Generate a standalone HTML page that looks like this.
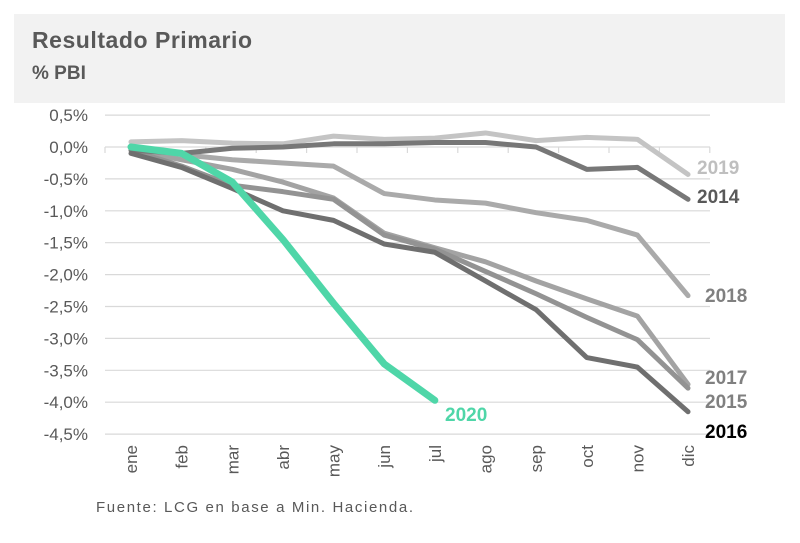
<!DOCTYPE html>
<html><head><meta charset="utf-8"><style>
body{margin:0;background:#fff;font-family:"Liberation Sans",sans-serif}
svg text{font-family:"Liberation Sans",sans-serif}
</style></head><body>
<svg width="800" height="538" viewBox="0 0 800 538">
<rect x="14" y="14" width="771" height="89" fill="#f2f2f2"/>
<text x="32" y="48" font-size="23" font-weight="bold" fill="#595959" textLength="220">Resultado Primario</text>
<text x="32" y="79" font-size="19" font-weight="bold" fill="#595959">% PBI</text>
<g id="grid"></g><g id="lines"></g><g id="labels"></g>
<text x="96" y="512" font-size="15" fill="#595959" textLength="317">Fuente: LCG en base a Min. Hacienda.</text>
</svg>
<script>
const months=["ene","feb","mar","abr","may","jun","jul","ago","sep","oct","nov","dic"];
const yTicks=[0.5,0,-0.5,-1,-1.5,-2,-2.5,-3,-3.5,-4,-4.5];
const s2019=[0.08,0.1,0.06,0.05,0.17,0.12,0.14,0.22,0.1,0.15,0.12,-0.43];
const s2014=[-0.05,-0.1,-0.02,0,0.05,0.05,0.07,0.07,0,-0.35,-0.32,-0.82];
const s2018=[0,-0.12,-0.2,-0.25,-0.3,-0.73,-0.83,-0.88,-1.03,-1.15,-1.38,-2.33];
const s2017=[-0.05,-0.2,-0.35,-0.55,-0.8,-1.35,-1.58,-1.8,-2.1,-2.38,-2.65,-3.72];
const s2015=[-0.05,-0.3,-0.6,-0.7,-0.82,-1.38,-1.6,-1.95,-2.3,-2.67,-3.02,-3.78];
const s2016=[-0.1,-0.32,-0.65,-1.0,-1.15,-1.52,-1.65,-2.1,-2.55,-3.3,-3.45,-4.15];
const s2020=[0,-0.1,-0.55,-1.45,-2.45,-3.4,-3.97];
const NS="http://www.w3.org/2000/svg";
const X=i=>131+i*50.64, Y=v=>147-v*63.8;
function mk(t,a,p){const e=document.createElementNS(NS,t);for(const k in a)e.setAttribute(k,a[k]);p.appendChild(e);return e;}
const grid=document.getElementById('grid'),lines=document.getElementById('lines'),labels=document.getElementById('labels');
yTicks.forEach(v=>{
 const l=mk('line',{x1:105,x2:710,y1:Y(v),y2:Y(v),stroke:'#d9d9d9','stroke-width':1.2},grid);
 
 
 const t=mk('text',{x:88,y:Y(v)+6,'text-anchor':'end','font-size':17,fill:'#595959'},grid);
 t.textContent=v.toFixed(1).replace('.',',')+'%';
 
 
});
for(let i=0;i<=12;i++){const x=105+i*50.4;const tk=mk('line',{x1:x,x2:x,y1:147,y2:153,stroke:'#d9d9d9','stroke-width':1.2},grid);
 
 }
months.forEach((m,i)=>{
 const t=mk('text',{x:0,y:0,'text-anchor':'end','font-size':17,fill:'#595959',transform:`translate(${X(i)+6},445) rotate(-90)`},grid);
 t.textContent=m;
 
 
});
const series=[["2019",s2019,"#c4c4c4",5,"#bfbfbf",false,174],["2018",s2018,"#aaaaaa",5,"#808080",false,302],["2017",s2017,"#a3a3a3",5,"#808080",false,384],["2015",s2015,"#939393",5,"#808080",false,408],["2014",s2014,"#777777",5,"#595959",false,203],["2016",s2016,"#6f6f6f",5,"#000000",false,438],["2020",s2020,"#4fd6a8",7,"#4fd6a8",true,421]];
series.forEach(([name,d,c,w,lc,g,ly])=>{
 const p=mk('polyline',{points:d.map((v,i)=>X(i)+','+Y(v)).join(' '),fill:'none',stroke:c,'stroke-width':w,'stroke-linejoin':'round','stroke-linecap':'round'},lines);
 
 
 const t=mk('text',{x:g?445:(name==='2016'||name==='2015'||name==='2017'||name==='2018'?705:697),y:ly,'font-size':19,'font-weight':'bold',fill:lc},labels);
 t.textContent=name;
 
 
});
</script>
</body></html>
